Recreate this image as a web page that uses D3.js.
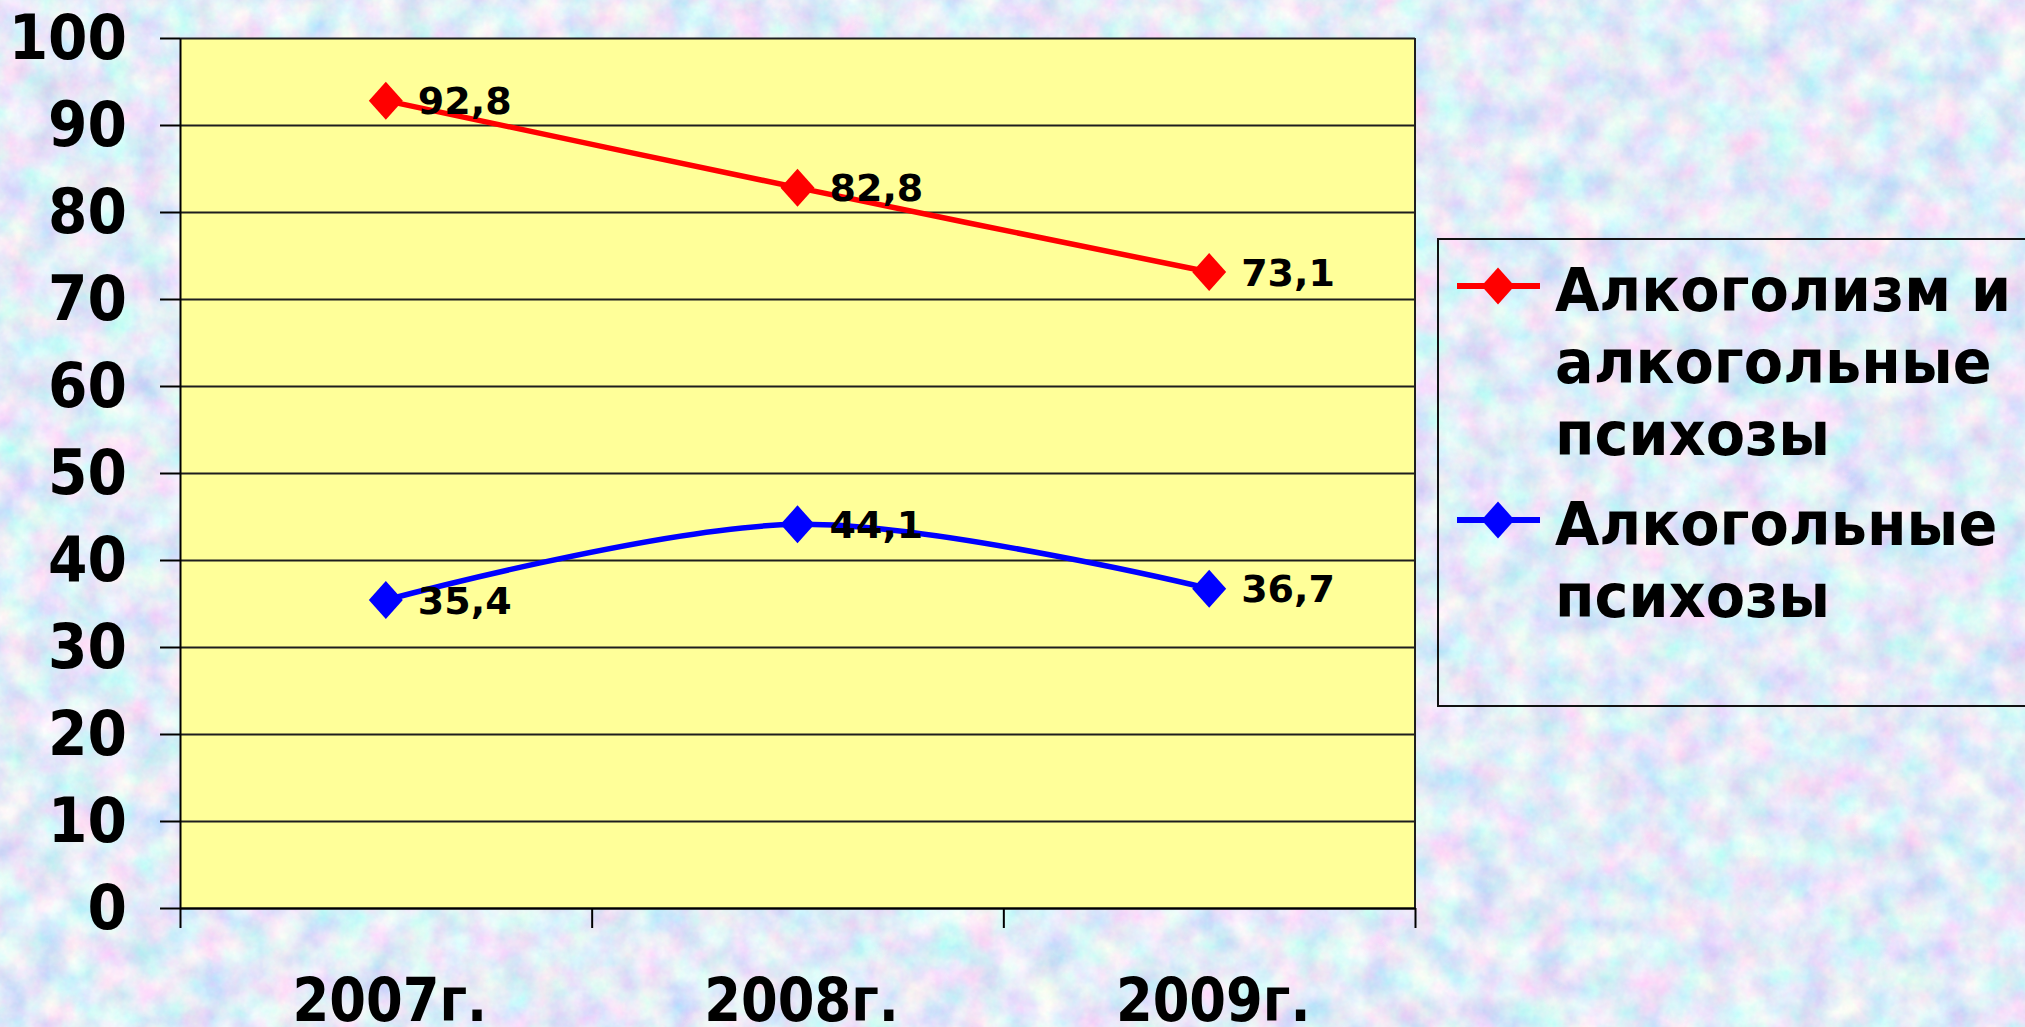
<!DOCTYPE html>
<html lang="ru">
<head>
<meta charset="utf-8">
<title>Алкоголизм и алкогольные психозы, 2007–2009</title>
<script src="https://cdn.jsdelivr.net/npm/d3@7"></script>
<style>
  html, body { margin: 0; padding: 0; background: #c4d9f3; }
  svg { display: block; }
  text { font-family: "DejaVu Sans", Verdana, sans-serif; font-weight: bold; fill: #000; }
</style>
</head>
<body>
<svg id="chart" width="2025" height="1027"></svg>
<script>
// Years on the horizontal axis
const categories = ["2007г.", "2008г.", "2009г."];

// Series values per year
const alcoholismValues = [92.8, 82.8, 73.1];
const psychosisValues = [35.4, 44.1, 36.7];

// Series names as they wrap in the legend
const alcoholismLegend = ["Алкоголизм и", "алкогольные", "психозы"];
const psychosisLegend = ["Алкогольные", "психозы"];

// Vertical axis ticks
const yTicks = [0, 10, 20, 30, 40, 50, 60, 70, 80, 90, 100];

const series = [
  { values: alcoholismValues, color: "#ff0000", legend: alcoholismLegend },
  { values: psychosisValues, color: "#0000ff", legend: psychosisLegend }
];

const W = 2025, H = 1027;
const plot = { left: 180, right: 1415, top: 38, bottom: 908 };

const svg = d3.select("#chart");
const defs = svg.append("defs");

// Mottled blue/lilac paper texture for the slide background
const paper = defs.append("filter")
  .attr("id", "paper")
  .attr("filterUnits", "userSpaceOnUse")
  .attr("x", 0).attr("y", 0).attr("width", W).attr("height", H);
paper.append("feTurbulence")
  .attr("type", "fractalNoise")
  .attr("baseFrequency", "0.03")
  .attr("numOctaves", 4)
  .attr("seed", 7)
  .attr("result", "coarse");
paper.append("feColorMatrix")
  .attr("in", "coarse")
  .attr("type", "matrix")
  .attr("values", [
    0.78, 0, 0, 0, 0.40,
    0, 0.56, 0, 0, 0.575,
    0, 0, 0.18, 0, 0.865,
    0, 0, 0, 0, 1
  ].join(" "))
  .attr("result", "tint");
paper.append("feTurbulence")
  .attr("type", "fractalNoise")
  .attr("baseFrequency", "0.3")
  .attr("numOctaves", 1)
  .attr("seed", 3)
  .attr("result", "grain");
paper.append("feComposite")
  .attr("in", "tint")
  .attr("in2", "grain")
  .attr("operator", "arithmetic")
  .attr("k1", 0).attr("k2", 1).attr("k3", 0.09).attr("k4", -0.045);

svg.append("rect")
  .attr("width", W).attr("height", H)
  .attr("fill", "#c4d9f3")
  .attr("filter", "url(#paper)");

// Scales
const x = d3.scaleBand().domain(categories).range([plot.left, plot.right]);
const xEdge = d3.scaleLinear().domain([0, categories.length]).range([plot.left, plot.right]);
const y = d3.scaleLinear().domain([0, 100]).range([plot.bottom, plot.top]);

// Plot area fill
svg.append("rect")
  .attr("x", plot.left).attr("y", plot.top)
  .attr("width", plot.right - plot.left)
  .attr("height", plot.bottom - plot.top)
  .attr("fill", "#ffff99");

// Horizontal gridlines
svg.append("g")
  .attr("transform", `translate(${plot.left},0)`)
  .call(d3.axisLeft(y).tickValues(yTicks).tickSize(-(plot.right - plot.left)).tickFormat(""))
  .call(g => g.select(".domain").remove())
  .call(g => g.selectAll(".tick line").attr("stroke", "#1e1e1e").attr("stroke-width", 2));

// Right border of the plot area
svg.append("line")
  .attr("x1", plot.right).attr("x2", plot.right)
  .attr("y1", plot.top).attr("y2", plot.bottom)
  .attr("stroke", "#1e1e1e").attr("stroke-width", 2);

// Value axis with labels (slightly narrowed bold face)
const yLabelEnd = -53;
svg.append("g")
  .attr("transform", `translate(${plot.left},0)`)
  .call(d3.axisLeft(y).tickValues(yTicks).tickSize(20).tickSizeOuter(0).tickPadding(33))
  .call(g => g.select(".domain").attr("stroke", "#000").attr("stroke-width", 2))
  .call(g => g.selectAll(".tick line").attr("stroke", "#000").attr("stroke-width", 2))
  .call(g => g.selectAll(".tick text")
    .attr("font-family", "DejaVu Sans, Verdana, sans-serif")
    .attr("font-weight", "bold")
    .attr("font-size", 63)
    .attr("fill", "#000")
    .attr("x", 0)
    .attr("transform", `translate(${yLabelEnd},0) scale(0.9,1)`));

// Category axis: ticks at the band edges
svg.append("g")
  .attr("transform", `translate(0,${plot.bottom})`)
  .call(d3.axisBottom(xEdge).tickValues(d3.range(categories.length + 1)).tickSize(20).tickSizeOuter(0).tickFormat(""))
  .call(g => g.select(".domain").attr("stroke", "#000").attr("stroke-width", 2))
  .call(g => g.selectAll(".tick line").attr("stroke", "#000").attr("stroke-width", 2));

// Category labels at the band centres
svg.append("g")
  .attr("transform", `translate(0,${plot.bottom})`)
  .call(d3.axisBottom(x).tickSize(0).tickPadding(0))
  .call(g => g.select(".domain").remove())
  .call(g => g.selectAll(".tick text")
    .attr("font-family", "DejaVu Sans, Verdana, sans-serif")
    .attr("font-weight", "bold")
    .attr("font-size", 60)
    .attr("fill", "#000")
    .attr("y", 0)
    .attr("dy", null)
    .attr("transform", "translate(4,113) scale(0.88,1)"));

// Diamond marker
const diamond = (w, h) => `M0,${-h / 2}L${w / 2},0L0,${h / 2}L${-w / 2},0Z`;

const line = d3.line()
  .x((d, i) => x(categories[i]) + x.bandwidth() / 2)
  .y(d => y(d))
  .curve(d3.curveCardinal.tension(0));

const fmt = v => d3.format(".1f")(v).replace(".", ",");

series.forEach(s => {
  const g = svg.append("g");
  g.append("path")
    .datum(s.values)
    .attr("d", line)
    .attr("fill", "none")
    .attr("stroke", s.color)
    .attr("stroke-width", 5.5)
    .attr("stroke-linejoin", "round");
  g.selectAll("path.marker")
    .data(s.values)
    .join("path")
    .attr("class", "marker")
    .attr("d", diamond(34, 38))
    .attr("transform", (d, i) => `translate(${x(categories[i]) + x.bandwidth() / 2},${y(d)})`)
    .attr("fill", s.color);
  g.selectAll("text")
    .data(s.values)
    .join("text")
    .attr("x", (d, i) => x(categories[i]) + x.bandwidth() / 2 + 32)
    .attr("y", d => y(d))
    .attr("dy", "0.36em")
    .attr("font-size", 38)
    .text(fmt);
});

// Legend
const legend = { x: 1438, y: 239, w: 700, h: 467 };
svg.append("rect")
  .attr("x", legend.x).attr("y", legend.y)
  .attr("width", legend.w).attr("height", legend.h)
  .attr("fill", "none")
  .attr("stroke", "#111").attr("stroke-width", 2);

const legendBaselines = [[311, 383, 455], [545, 617]];
series.forEach((s, k) => {
  const base = legendBaselines[k];
  const cy = base[0] - 25;
  const g = svg.append("g");
  g.append("line")
    .attr("x1", 1457).attr("x2", 1540)
    .attr("y1", cy).attr("y2", cy)
    .attr("stroke", s.color).attr("stroke-width", 6);
  g.append("path")
    .attr("d", diamond(33, 37))
    .attr("transform", `translate(1498,${cy})`)
    .attr("fill", s.color);
  g.selectAll("text")
    .data(s.legend)
    .join("text")
    .attr("x", 0)
    .attr("y", 0)
    .attr("transform", (d, i) => `translate(1555,${base[i]}) scale(0.955,1)`)
    .attr("font-size", 60)
    .text(d => d);
});
</script>
</body>
</html>
